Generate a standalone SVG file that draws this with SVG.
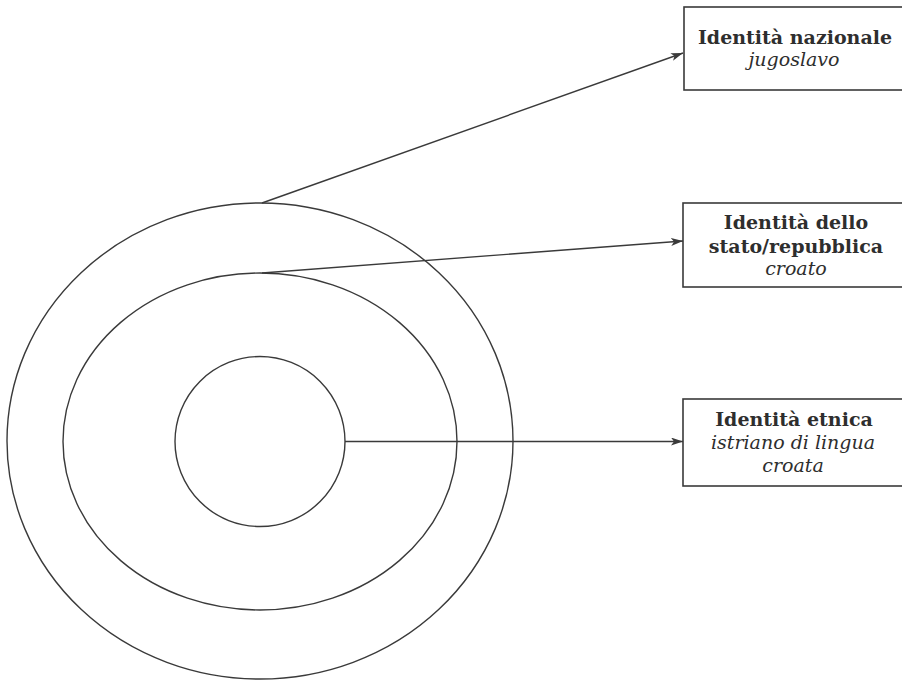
<svg xmlns="http://www.w3.org/2000/svg" width="902" height="682" viewBox="0 0 902 682">
<style>
  .ring { fill: none; stroke: #3a3a3a; stroke-width: 1.4; }
  .box { fill: #ffffff; stroke: #3a3a3a; stroke-width: 1.6; }
  .conn { fill: none; stroke: #3a3a3a; stroke-width: 1.4; }
  .t { font-family: "DejaVu Serif", "Liberation Serif", serif; font-size: 19px; fill: #2e2e2e; text-anchor: middle; }
  .b { font-weight: bold; }
  .i { font-style: italic; }
</style>
<defs>
  <marker id="arr" viewBox="0 0 12 8" refX="12" refY="4" markerWidth="12" markerHeight="8" markerUnits="userSpaceOnUse" orient="auto">
    <path d="M0,0 L12,4 L0,8 L3,4 Z" fill="#3a3a3a"/>
  </marker>
</defs>
<rect width="902" height="682" fill="#ffffff"/>
<g id="rings">
  <ellipse id="outer" class="ring" cx="260" cy="441" rx="253" ry="238"/>
  <ellipse id="middle" class="ring" cx="260" cy="441.5" rx="197" ry="168.5"/>
  <circle id="inner" class="ring" cx="260" cy="441.5" r="85"/>
</g>
<g id="connectors">
  <line class="conn" x1="262" y1="203" x2="683" y2="53" marker-end="url(#arr)"/>
  <line class="conn" x1="262" y1="273" x2="683" y2="241" marker-end="url(#arr)"/>
  <line class="conn" x1="345" y1="441.5" x2="683" y2="441.5" marker-end="url(#arr)"/>
</g>
<g id="node-nazionale">
  <rect class="box" x="684" y="7" width="230" height="83"/>
  <text class="t b" x="795" y="44">Identità nazionale</text>
  <text class="t i" x="794" y="66">jugoslavo</text>
</g>
<g id="node-stato">
  <rect class="box" x="683" y="203" width="230" height="84"/>
  <text class="t b" x="796" y="229">Identità dello</text>
  <text class="t b" x="796" y="253">stato/repubblica</text>
  <text class="t i" x="796" y="275">croato</text>
</g>
<g id="node-etnica">
  <rect class="box" x="683" y="399" width="230" height="87"/>
  <text class="t b" x="794" y="426">Identità etnica</text>
  <text class="t i" x="793" y="449">istriano di lingua</text>
  <text class="t i" x="793" y="472">croata</text>
</g>
</svg>
